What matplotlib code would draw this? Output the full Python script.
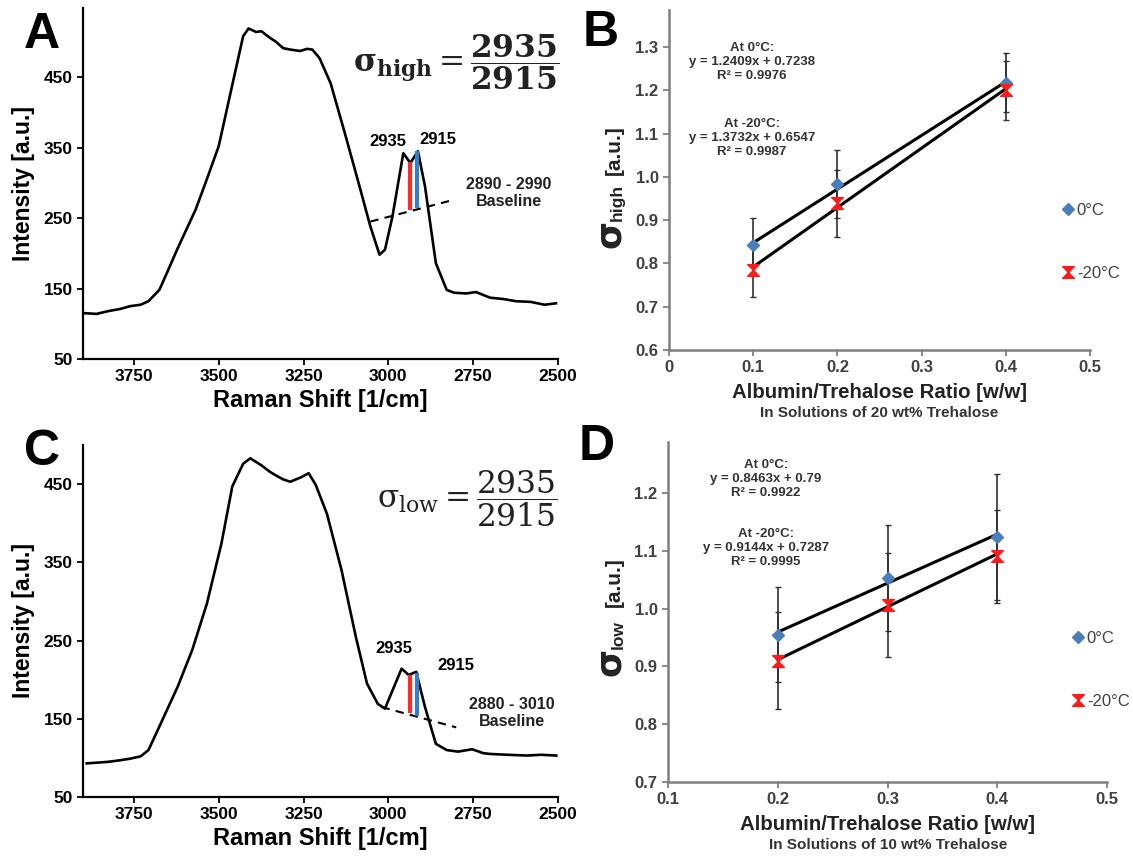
import matplotlib.pyplot as plt

plt.rcParams['font.family'] = ['Liberation Sans', 'DejaVu Sans']

# ---- panel A: Raman spectrum (high) ----
wn_a = [3895, 3860, 3825, 3790, 3761, 3730, 3707, 3675, 3650, 3621, 3568, 3535, 3500,
        3459, 3428, 3412, 3390, 3374, 3350, 3331, 3310, 3289, 3260, 3240, 3224, 3203,
        3170, 3128, 3085, 3053, 3026, 3010, 2988, 2956, 2935, 2913, 2892, 2860, 2828,
        2806, 2770, 2742, 2700, 2660, 2624, 2580, 2540, 2506]
int_a = [115, 114, 118, 121, 125, 127, 132, 148, 175, 207, 262, 305, 352,
         441, 508, 519, 514, 515, 506, 500, 491, 489, 487, 490, 489, 477,
         441, 370, 295, 238, 198, 205, 252, 342, 328, 345, 295, 186, 148,
         144, 143, 145, 137, 135, 132, 131, 127, 129]
base_a = ([3053, 2806], [245, 276])
red_a = (2935, 262, 330)
blue_a = (2915, 264, 345)

# ---- panel C: Raman spectrum (low) ----
wn_c = [3889, 3855, 3825, 3790, 3761, 3730, 3707, 3675, 3621, 3578, 3535, 3492,
        3460, 3428, 3407, 3374, 3350, 3331, 3310, 3289, 3256, 3235, 3214, 3181,
        3138, 3096, 3063, 3031, 3010, 2988, 2961, 2940, 2918, 2892, 2860, 2828,
        2795, 2753, 2720, 2699, 2650, 2591, 2550, 2505]
int_c = [93, 94, 95, 97, 99, 102, 110, 140, 191, 238, 297, 374,
         447, 476, 483, 474, 466, 461, 456, 453, 459, 464, 449, 412,
         340, 255, 195, 169, 163, 186, 214, 206, 210, 165, 118, 110,
         108, 111, 106, 105, 104, 103, 104, 103]
base_c = ([3020, 2800], [165, 139])
red_c = (2937, 157, 206)
blue_c = (2915, 153, 209)

# ---- panel B: sigma_high vs ratio (20 wt% trehalose) ----
ratio_b = [0.1, 0.2, 0.4]
hot_b = [0.842, 0.984, 1.218]
hot_err_b = [0.062, 0.078, 0.068]
cold_b = [0.786, 0.939, 1.200]
cold_err_b = [0.064, 0.077, 0.068]
fit_b = [(1.2409, 0.7238), (1.3732, 0.6547)]
eq_b = ["At 0°C:\ny = 1.2409x + 0.7238\nR² = 0.9976",
        "At -20°C:\ny = 1.3732x + 0.6547\nR² = 0.9987"]

# ---- panel D: sigma_low vs ratio (10 wt% trehalose) ----
ratio_d = [0.2, 0.3, 0.4]
hot_d = [0.955, 1.053, 1.124]
hot_err_d = [0.082, 0.091, 0.109]
cold_d = [0.910, 1.006, 1.090]
cold_err_d = [0.084, 0.090, 0.080]
fit_d = [(0.8463, 0.79), (0.9144, 0.7287)]
eq_d = ["At 0°C:\ny = 0.8463x + 0.79\nR² = 0.9922",
        "At -20°C:\ny = 0.9144x + 0.7287\nR² = 0.9995"]

series_labels = ["0°C", "-20°C"]
blue = '#4a7ebb'
red = '#ff1a1a'
grey = '#7f7f7f'
hourglass = [(-1, 1), (1, 1), (-1, -1), (1, -1), (-1, 1)]

W, H = 1133, 860
fig = plt.figure(figsize=(W / 100, H / 100), dpi=100)


def fx(px):
    return px / W


def fy(py):
    return 1 - py / H


def spectrum(rect, wn, inten, base, red_line, blue_line, ylim):
    ax = fig.add_axes(rect)
    ax.plot(wn, inten, color='black', lw=1.9)
    ax.plot(base[0], base[1], color='black', lw=1.5, ls=(0, (4, 3)))
    ax.vlines(red_line[0], red_line[1], red_line[2], color='#ff2a2a', lw=3)
    ax.vlines(blue_line[0], blue_line[1], blue_line[2], color='#2f80d0', lw=3)
    ax.set_xlim(3900, 2500)
    ax.set_ylim(*ylim)
    ax.set_xticks([3750, 3500, 3250, 3000, 2750, 2500])
    ax.set_yticks([50, 150, 250, 350, 450])
    for s in ['top', 'right']:
        ax.spines[s].set_visible(False)
    for s in ['left', 'bottom']:
        ax.spines[s].set_linewidth(1.6)
    ax.tick_params(direction='out', length=4, width=1.3, labelsize=12.5, colors='black')
    for lab in ax.get_xticklabels() + ax.get_yticklabels():
        lab.set_fontweight('bold')
    ax.set_xlabel("Raman Shift [1/cm]", fontsize=17, fontweight='bold', labelpad=3)
    ax.set_ylabel("Intensity [a.u.]", fontsize=16.5, fontweight='bold', labelpad=6)
    return ax


def ratio_plot(rect, x, hot, hot_err, cold, cold_err, fits, xlim, ylim, xticks, yticks):
    ax = fig.add_axes(rect)
    ax.errorbar(x, hot, yerr=hot_err, fmt='none', ecolor='#303030', elinewidth=1.2,
                capsize=2, capthick=1)
    ax.errorbar(x, cold, yerr=cold_err, fmt='none', ecolor='#303030', elinewidth=1.2,
                capsize=2, capthick=1)
    for slope, icpt in fits:
        xs = [min(x), max(x)]
        ax.plot(xs, [slope * v + icpt for v in xs], color='black', lw=2.2, zorder=3)
    ax.plot(x, hot, ls='none', marker='D', ms=6.5, color=blue, zorder=4, label=series_labels[0])
    ax.plot(x, cold, ls='none', marker=hourglass, ms=8.5, color=red, mec=red, zorder=4,
            label=series_labels[1])
    ax.set_xlim(*xlim)
    ax.set_ylim(*ylim)
    ax.set_xticks(xticks)
    ax.set_xticklabels(['0' if t == 0 else f'{t:.1f}' for t in xticks])
    ax.set_yticks(yticks)
    ax.set_yticklabels([f'{t:.1f}' for t in yticks])
    for s in ['top', 'right']:
        ax.spines[s].set_visible(False)
    for s in ['left', 'bottom']:
        ax.spines[s].set_linewidth(1.8)
        ax.spines[s].set_color(grey)
    ax.tick_params(direction='out', length=4, width=1.3, color=grey, labelsize=12,
                   labelcolor='#404040')
    for lab in ax.get_xticklabels() + ax.get_yticklabels():
        lab.set_fontweight('bold')
    return ax


def sigma_label(x, y_sig, sub, x_sub, y_sub, y_unit):
    fig.text(fx(x), fy(y_sig), "σ", rotation=90, ha='center', va='center',
             fontsize=26, fontweight='bold', family='DejaVu Sans', color='#222222')
    fig.text(fx(x_sub), fy(y_sub), sub, rotation=90, ha='center', va='center',
             fontsize=12.5, fontweight='bold', color='#222222')
    fig.text(fx(x + 4), fy(y_unit), "[a.u.]", rotation=90, ha='center', va='center',
             fontsize=15, fontweight='bold', color='#222222')


def eq_block(x, y, txt):
    fig.text(fx(x), fy(y), txt, ha='center', va='center', fontsize=9.5,
             fontweight='bold', color='#333333', linespacing=1.2)


# panel A
axA = spectrum([fx(83), fy(359), fx(558 - 83), (359 - 8) / H], wn_a, int_a, base_a,
               red_a, blue_a, (50, 548))
axA.text(3000, 359, "2935", ha='center', va='center', fontsize=12, fontweight='bold')
axA.text(2855, 362, "2915", ha='center', va='center', fontsize=12, fontweight='bold')
axA.text(2646, 286, "2890 - 2990\nBaseline", ha='center', va='center', fontsize=11.5,
         fontweight='bold', color='#222222', linespacing=1.15)
fig.text(fx(559), fy(62), r'$\mathbf{\sigma}_{\mathbf{high}} = \dfrac{\mathbf{2935}}{\mathbf{2915}}$',
         ha='right', va='center', fontsize=22.5, math_fontfamily='dejavuserif', color='#222222')

# panel C
axC = spectrum([fx(83), fy(797), fx(558 - 83), (797 - 445) / H], wn_c, int_c, base_c,
               red_c, blue_c, (50, 500))
axC.text(2984, 240, "2935", ha='center', va='center', fontsize=12, fontweight='bold')
axC.text(2801, 218, "2915", ha='center', va='center', fontsize=12, fontweight='bold')
axC.text(2635, 157, "2880 - 3010\nBaseline", ha='center', va='center', fontsize=11.5,
         fontweight='bold', color='#222222', linespacing=1.15)
fig.text(fx(557), fy(499), r'$\mathrm{\sigma}_{\mathrm{low}} = \dfrac{2935}{2915}$',
         ha='right', va='center', fontsize=22.5, math_fontfamily='dejavuserif', color='#222222')

# panel B
axB = ratio_plot([fx(669), fy(350), fx(1090 - 669), (350 - 10) / H], ratio_b, hot_b, hot_err_b,
                 cold_b, cold_err_b, fit_b, (0, 0.5), (0.6, 1.386),
                 [0, 0.1, 0.2, 0.3, 0.4, 0.5], [0.6, 0.7, 0.8, 0.9, 1.0, 1.1, 1.2, 1.3])
axB.legend(loc='center left', bbox_to_anchor=(fx(1061), fy(242)), bbox_transform=fig.transFigure,
           frameon=False, handlelength=0.8, handletextpad=0.15, labelspacing=2.9,
           borderpad=0, borderaxespad=0, fontsize=12, labelcolor='#404040')
eq_block(752, 62, eq_b[0])
eq_block(752, 138, eq_b[1])
fig.text(fx(879), fy(393), "Albumin/Trehalose Ratio [w/w]", ha='center', va='center',
         fontsize=14.7, fontweight='bold', color='#222222')
fig.text(fx(879), fy(413), "In Solutions of 20 wt% Trehalose", ha='center', va='center',
         fontsize=11, fontweight='bold', color='#333333')
sigma_label(610, 234, "high", 617, 202, 150)

# panel D
axD = ratio_plot([fx(668), fy(782), fx(1107 - 668), (782 - 442) / H], ratio_d, hot_d, hot_err_d,
                 cold_d, cold_err_d, fit_d, (0.1, 0.5), (0.7, 1.288),
                 [0.1, 0.2, 0.3, 0.4, 0.5], [0.7, 0.8, 0.9, 1.0, 1.1, 1.2])
axD.legend(loc='center left', bbox_to_anchor=(fx(1071), fy(670)), bbox_transform=fig.transFigure,
           frameon=False, handlelength=0.8, handletextpad=0.15, labelspacing=2.9,
           borderpad=0, borderaxespad=0, fontsize=12, labelcolor='#404040')
eq_block(766, 479, eq_d[0])
eq_block(766, 548, eq_d[1])
fig.text(fx(888), fy(825), "Albumin/Trehalose Ratio [w/w]", ha='center', va='center',
         fontsize=14.7, fontweight='bold', color='#222222')
fig.text(fx(888), fy(845), "In Solutions of 10 wt% Trehalose", ha='center', va='center',
         fontsize=11, fontweight='bold', color='#333333')
sigma_label(610, 662, "low", 618, 635, 582)

# panel letters
for letter, px, py in [("A", 42, 35), ("B", 601, 33), ("C", 42, 452), ("D", 597, 447)]:
    fig.text(fx(px), fy(py), letter, ha='center', va='center', fontsize=36, fontweight='bold')

fig.savefig('out.png', dpi=100)
